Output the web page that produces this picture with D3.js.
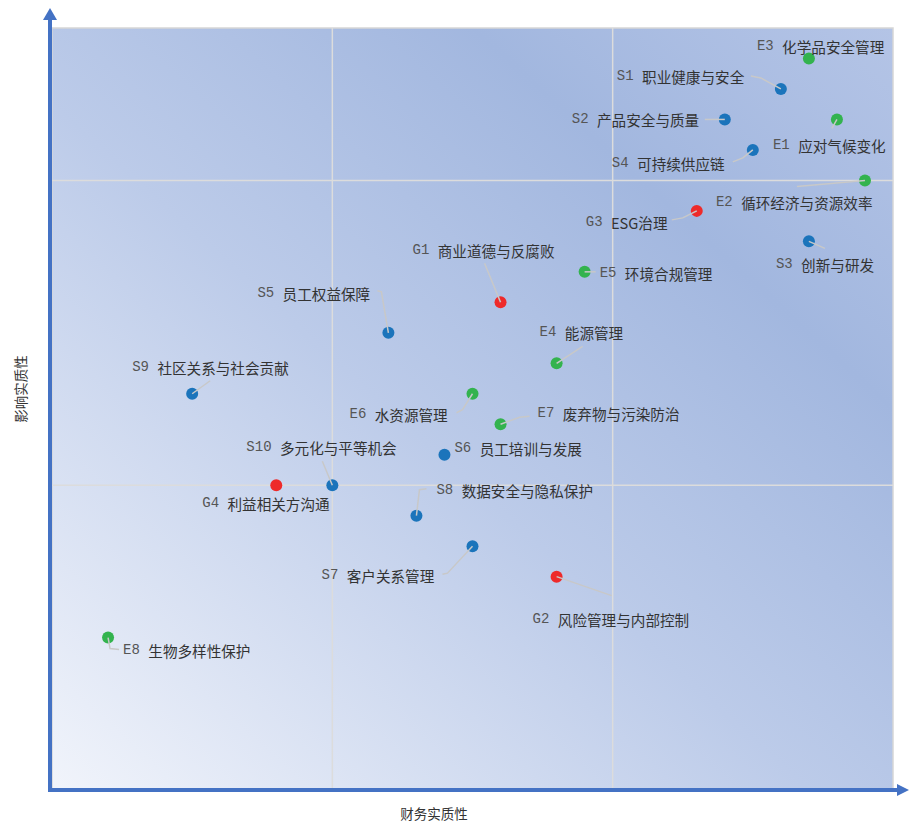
<!DOCTYPE html>
<html>
<head>
<meta charset="utf-8">
<script src="https://cdn.jsdelivr.net/npm/d3@7/dist/d3.min.js"></script>
<style>
  body { margin: 0; background: #fff; }
</style>
</head>
<body>
<div class="chart"></div>
<script>
// topics: code, name, group
const codes = ["E3","S1","S2","E1","S4","E2","G3","S3","E5","G1","S5","E4","S9","E6","E7","S6","S10","G4","S8","S7","G2","E8"];
const names = ["化学品安全管理","职业健康与安全","产品安全与质量","应对气候变化","可持续供应链","循环经济与资源效率","ESG治理","创新与研发","环境合规管理","商业道德与反腐败","员工权益保障","能源管理","社区关系与社会贡献","水资源管理","废弃物与污染防治","员工培训与发展","多元化与平等机会","利益相关方沟通","数据安全与隐私保护","客户关系管理","风险管理与内部控制","生物多样性保护"];
// financial materiality (x) and impact materiality (y)
const financial = [2.7,2.6,2.4,2.8,2.5,2.9,2.3,2.7,1.9,1.6,1.2,1.8,0.5,1.5,1.6,1.4,1.0,0.8,1.3,1.5,1.8,0.2];
const impact    = [2.4,2.3,2.2,2.2,2.1,2.0,1.9,1.8,1.7,1.6,1.5,1.4,1.3,1.3,1.2,1.1,1.0,1.0,0.9,0.8,0.7,0.5];
const xTicks = [1, 2];
const yTicks = [1, 2];

const colors = { E: "#33b34e", S: "#1b74bb", G: "#ee2a2a" };

// label placement relative to each point (text start dx, centre dy, leader polyline)
const labelLayout = {
  E3: { dx: -52, dy: -12, line: [] },
  S1: { dx: -164, dy: -13, line: [[0,0],[-20,-11],[-30,-13]] },
  S2: { dx: -153, dy: 0, line: [[0,0],[-20,0]] },
  E1: { dx: -64, dy: 26, line: [[0,0],[-5,9]] },
  S4: { dx: -141, dy: 13, line: [[0,0],[-10,8],[-20,12]] },
  E2: { dx: -149, dy: 22, line: [[0,0],[-68,6]] },
  G3: { dx: -111, dy: 11, line: [[0,0],[-14,7],[-25,9]] },
  S3: { dx: -33, dy: 23, line: [[0,0],[16,7]] },
  E5: { dx: 15, dy: 1, line: [[0,0],[11,0]] },
  G1: { dx: -88, dy: -52, line: [[0,0],[-16,-39]] },
  S5: { dx: -131, dy: -40, line: [[0,0],[-7,-41],[-11,-42]] },
  E4: { dx: -17, dy: -31, line: [[0,0],[26,-17]] },
  S9: { dx: -60, dy: -27, line: [[0,0],[18,-13]] },
  E6: { dx: -123, dy: 20, line: [[0,0],[-10,16],[-16,19]] },
  E7: { dx: 37, dy: -11, line: [[0,0],[19,-7],[29,-8]] },
  S6: { dx: 10, dy: -7, line: [] },
  S10: { dx: -86, dy: -38, line: [[0,0],[-10,-24]] },
  G4: { dx: -74, dy: 18, line: [] },
  S8: { dx: 20, dy: -26, line: [[0,0],[3,-26],[10,-27]] },
  S7: { dx: -151, dy: 29, line: [[0,0],[-25,27],[-30,28]] },
  G2: { dx: -24, dy: 42, line: [[0,0],[55,19]] },
  E8: { dx: 15, dy: 12, line: [[0,0],[2,11],[11,12]] }
};

const width = 909, height = 822;
const plotLeft = 52, plotRight = 893, plotTop = 28, plotBottom = 790;

const svg = d3.select(".chart").append("svg")
    .attr("width", width)
    .attr("height", height);

const x = d3.scaleLinear().domain([0, 3]).range([plotLeft, plotRight]);
const y = d3.scaleLinear().domain([0, 2.5]).range([plotBottom, plotTop]);

// background gradient
const defs = svg.append("defs");
const grad = defs.append("linearGradient")
    .attr("id", "bg")
    .attr("x1", 0).attr("y1", 1)
    .attr("x2", 1).attr("y2", 0);
grad.append("stop").attr("offset", "0%").attr("stop-color", "#f1f4fb");
grad.append("stop").attr("offset", "45%").attr("stop-color", "#bccbe9");
grad.append("stop").attr("offset", "75%").attr("stop-color", "#a2b7df");
grad.append("stop").attr("offset", "100%").attr("stop-color", "#b4c4e6");

svg.append("rect")
    .attr("x", plotLeft)
    .attr("y", plotTop)
    .attr("width", plotRight - plotLeft)
    .attr("height", plotBottom - plotTop)
    .attr("fill", "url(#bg)")
    .attr("stroke", "#d6d6d6")
    .attr("stroke-width", 1.5);

// grid
svg.append("g").selectAll("line").data(xTicks).join("line")
    .attr("x1", d => x(d)).attr("x2", d => x(d))
    .attr("y1", plotTop).attr("y2", plotBottom)
    .attr("stroke", "#dcdcdc")
    .attr("stroke-width", 1.5);

svg.append("g").selectAll("line").data(yTicks).join("line")
    .attr("x1", plotLeft).attr("x2", plotRight)
    .attr("y1", d => y(d)).attr("y2", d => y(d))
    .attr("stroke", "#dcdcdc")
    .attr("stroke-width", 1.5);

// axes with arrows
const axisColor = "#4472c4";
svg.append("line")
    .attr("x1", 50).attr("x2", 50)
    .attr("y1", plotBottom + 2).attr("y2", 18)
    .attr("stroke", axisColor)
    .attr("stroke-width", 4);
svg.append("path")
    .attr("d", "M50,8 L57,20 L43,20 Z")
    .attr("fill", axisColor);

svg.append("line")
    .attr("x1", 48).attr("x2", 898)
    .attr("y1", plotBottom).attr("y2", plotBottom)
    .attr("stroke", axisColor)
    .attr("stroke-width", 4);
svg.append("path")
    .attr("d", "M909," + plotBottom + " L897," + (plotBottom - 6) + " L897," + (plotBottom + 6) + " Z")
    .attr("fill", axisColor);

// axis titles
svg.append("text")
    .text("财务实质性")
    .attr("x", 434)
    .attr("y", 819)
    .attr("text-anchor", "middle")
    .attr("font-family", "Noto Sans CJK SC, sans-serif")
    .attr("font-size", 13.5)
    .attr("fill", "#333");

svg.append("text")
    .text("影响实质性")
    .attr("transform", "translate(26,389) rotate(-90)")
    .attr("text-anchor", "middle")
    .attr("font-family", "Noto Sans CJK SC, sans-serif")
    .attr("font-size", 13.5)
    .attr("fill", "#333");

const points = codes.map((c, i) => ({
  code: c, name: names[i], group: c[0],
  px: x(financial[i]), py: y(impact[i]),
  lay: labelLayout[c]
}));

// dots
svg.append("g").selectAll("circle").data(points).join("circle")
    .attr("cx", d => d.px)
    .attr("cy", d => d.py)
    .attr("r", 6)
    .attr("fill", d => colors[d.group]);

// leader lines
const line = d3.line();
svg.append("g").selectAll("path").data(points.filter(d => d.lay.line.length)).join("path")
    .attr("d", d => line(d.lay.line.map(p => [d.px + p[0], d.py + p[1]])))
    .attr("fill", "none")
    .attr("stroke", "#c8c8c8")
    .attr("stroke-width", 1.5);

// labels
const labels = svg.append("g").selectAll("text").data(points).join("text")
    .attr("x", d => d.px + d.lay.dx)
    .attr("y", d => d.py + d.lay.dy)
    .attr("dominant-baseline", "central")
    .attr("fill", "#333");

labels.append("tspan")
    .attr("font-family", "Liberation Mono, monospace")
    .attr("font-size", 14)
    .attr("fill", "#555")
    .text(d => d.code + " ");
labels.append("tspan")
    .attr("font-family", "Noto Sans CJK SC, sans-serif")
    .attr("font-size", 14.6)
    .text(d => d.name);
</script>
</body>
</html>
